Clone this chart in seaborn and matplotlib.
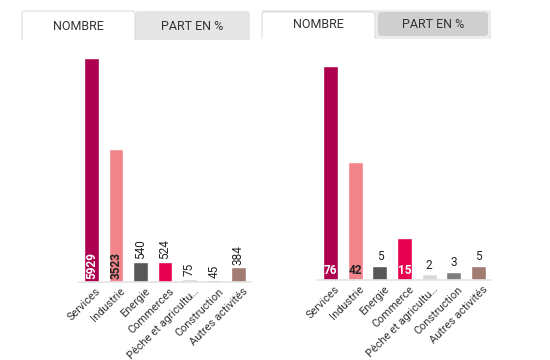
import matplotlib
matplotlib.use("Agg")
import matplotlib.pyplot as plt
import seaborn as sns
import pandas as pd
from matplotlib.patches import FancyBboxPatch, Rectangle
from matplotlib.transforms import Affine2D, ScaledTranslation
import matplotlib.colors as mcolors

# ---- data ----
cats_left = ["Services", "Industrie", "Energie", "Commerces",
             "Pêche et agricultu…", "Construction", "Autres activités"]
vals_left = [5929, 3523, 540, 524, 75, 45, 384]
cats_right = ["Services", "Industrie", "Energie", "Commerce",
              "Pêche et agricultu…", "Construction", "Autres activités"]
vals_right = [76, 42, 5, 15, 2, 3, 5]
colors = ["#ad004f", "#f2848b", "#585858", "#e6004f",
          "#d9d9d9", "#7f7f7f", "#a27c73"]
tab_labels = ["NOMBRE", "PART EN %"]

sns.set_theme(style="white")
plt.rcParams["font.family"] = ["Roboto", "DejaVu Sans"]

W, H = 550, 360
fig = plt.figure(figsize=(W / 100, H / 100), dpi=100)
px = Affine2D().scale(1 / W, -1 / H).translate(0, 1) + fig.transFigure


def box(x0, y0, x1, y1, fc, ec="none", r=0.0, lw=0.8, z=1):
    if r > 0:
        p = FancyBboxPatch((x0, y0), x1 - x0, y1 - y0,
                           boxstyle=f"round,pad=0,rounding_size={r}",
                           fc=fc, ec=ec, lw=lw, transform=px, zorder=z)
    else:
        p = Rectangle((x0, y0), x1 - x0, y1 - y0, fc=fc, ec=ec, lw=lw,
                      transform=px, zorder=z)
    fig.patches.append(p)


def label(x, y, s):
    fig.text(x / W, 1 - y / H, s, ha="center", va="center", fontsize=9,
             color="#333333", zorder=10)


# left tabs
box(135, 11, 250, 48, "#e6e6e6", r=3, z=1)
box(22, 11, 135, 48, "white", ec="#dddddd", r=3, z=2)
box(15, 40, 260, 50, "white", z=3)
label(78.5, 26, tab_labels[0])
label(192.5, 26, tab_labels[1])

# right tabs
box(262, 10, 491, 39, "#ececec", z=1)
box(262, 12, 375, 45, "white", ec="#dddddd", r=3, z=2)
box(378, 12, 488, 36, "#cfcfcf", r=3, z=2)
box(255, 39, 500, 50, "white", z=3)
label(318.5, 25, tab_labels[0])
label(433, 24, tab_labels[1])


def panel(rect_px, cats, vals, ymax, rotate):
    x0, x1, ybase, ytop = rect_px
    ax = fig.add_axes([x0 / W, 1 - ybase / H, (x1 - x0) / W, (ybase - ytop) / H])
    df = pd.DataFrame({"cat": cats, "val": vals})
    sns.barplot(data=df, x="cat", y="val", hue="cat", palette=colors,
                legend=False, width=0.61, ax=ax, saturation=1)
    ax.set_xlim(-0.5, 6.5)
    ax.set_ylim(0, ymax)
    ax.set_xlabel("")
    ax.set_ylabel("")
    ax.set_yticks([])
    for s in ["top", "left", "right"]:
        ax.spines[s].set_visible(False)
    ax.spines["bottom"].set_color("#e3e3e3")
    ax.spines["bottom"].set_linewidth(1.2)
    ax.tick_params(axis="x", length=0, pad=3)
    ax.set_xticks(range(len(cats)))
    ax.set_xticklabels(cats, rotation=45, ha="right", rotation_mode="anchor",
                       fontsize=7.9, color="#333333")
    shift = ScaledTranslation(4 / 100, 0, fig.dpi_scale_trans)
    for t in ax.get_xticklabels():
        t.set_transform(t.get_transform() + shift)
    thr = ymax * 0.15
    for patch, v, c in zip(ax.patches, vals, colors):
        cx = patch.get_x() + patch.get_width() / 2
        h = patch.get_height()
        r, g, b = mcolors.to_rgb(c)
        lum = 0.299 * r + 0.587 * g + 0.114 * b
        inside = h > thr
        if inside:
            tc = "white" if lum < 0.55 else "#222222"
            off = ymax * 0.012
            ax.text(cx, off, str(v), ha="center", va="bottom",
                    rotation=90 if rotate else 0, fontsize=8.5,
                    fontweight="bold", color=tc)
        else:
            ax.text(cx, h + ymax * 0.012, str(v), ha="center", va="bottom",
                    rotation=90 if rotate else 0, fontsize=8.5,
                    color="#222222")
    return ax


panel((79.25, 250.75, 282, 50), cats_left, vals_left, 5929 * 232 / 224, True)
panel((318.2, 490.9, 280, 50), cats_right, vals_right, 76 * 230 / 214, False)

fig.savefig("out.png", dpi=100)
